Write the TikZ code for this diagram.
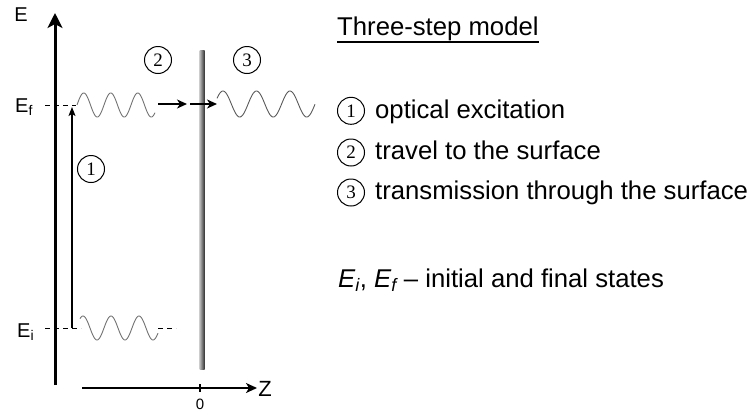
\documentclass[tikz,border=0pt]{standalone}
\usepackage{fontspec}
\setmainfont{Liberation Sans}
\newfontfamily\serifdig{Liberation Serif}
\usetikzlibrary{arrows.meta}
\begin{document}
\begin{tikzpicture}[x=1pt,y=-1pt,
  num/.style={circle,draw,line width=1pt,minimum size=27pt,inner sep=0pt,
    font=\serifdig\fontsize{19}{19}\selectfont},
  lbl/.style={font=\fontsize{25.7}{30}\selectfont,anchor=base west,inner sep=0pt},
  axlbl/.style={font=\fontsize{20}{24}\selectfont,inner sep=0pt},
  level/.style={line width=0.8pt,dash pattern=on 5pt off 4pt},
  wave/.style={line width=0.9pt,black!55},
  wavedark/.style={line width=0.9pt,black!65},
  bigaxis/.style={line width=3pt,-{Stealth[length=15pt,width=15pt,inset=4pt]}},
  zaxis/.style={line width=1.5pt,-{Stealth[length=11pt,width=10pt,inset=3pt]}},
  travel/.style={line width=1.8pt,-{Stealth[length=10pt,width=9pt,inset=3pt]}},
  excite/.style={line width=1.2pt,-{Stealth[length=9pt,width=7pt,inset=2pt]}}]
\useasboundingbox (0,0) rectangle (750,413);

% axes
\coordinate (Ebot) at (55,385);
\coordinate (Etop) at (55,13);
\draw[bigaxis] (Ebot) -- (Etop);
\node[axlbl] (Elab) at (21,15) {E};

\coordinate (Zstart) at (82,388);
\coordinate (Zend) at (257,388);
\draw[zaxis] (Zstart) -- (Zend);
\coordinate (tickA) at (200,384);
\coordinate (tickB) at (200,392);
\draw[line width=1.2pt] (tickA) -- (tickB);
\node[axlbl,font=\fontsize{15}{18}\selectfont] (zero) at (200,404) {0};
\node[axlbl,font=\fontsize{22}{26}\selectfont] (Zlab) at (265,389) {Z};

% surface
\shade[left color=black!25,right color=black!80] (199.5,50) rectangle (204.5,369);

% levels
\node[axlbl,anchor=base west] (Ef) at (15,112) {E\textsubscript{f}};
\node[axlbl,anchor=base west] (Ei) at (17,337) {E\textsubscript{i}};

\coordinate (EfL) at (45,105);
\coordinate (EfR) at (76,105);
\draw[level] (EfL) -- (EfR);
\coordinate (EiL) at (45,328);
\coordinate (EiR) at (81,328);
\draw[level] (EiL) -- (EiR);
\coordinate (EiL2) at (158,328);
\coordinate (EiR2) at (176,328);
\draw[level] (EiL2) -- (EiR2);

% waves
\draw[wave] plot[domain=77:155,samples=150,smooth] (\x,{105-12*sin(13.333*(\x-77))});
\draw[wave] plot[domain=80:158,samples=150,smooth] (\x,{328-12*sin(12.857*(\x-76))});
\draw[wavedark] plot[domain=217:315,samples=180,smooth] (\x,{104-13*sin(10.746*(\x-214.6))});

% step 1
\coordinate (exA) at (72,328);
\coordinate (exB) at (72,107);
\draw[excite] (exA) -- (exB);
\node[num] (n1) at (91,169) {1};

% step 2
\coordinate (trA) at (158,104);
\coordinate (trB) at (187,104);
\coordinate (trC) at (190,104);
\coordinate (trD) at (217,104);
\draw[travel] (trA) -- (trB);
\draw[travel] (trC) -- (trD);
\node[num] (n2) at (158,60) {2};
\node[num] (n3) at (247,60) {3};

% legend
\node[lbl] (head) at (337,35) {Three-step model};
\draw[line width=1.3pt] ([yshift=-7pt]head.base west) -- ([yshift=-7pt]head.base east);

\node[num] (c1) at (351,110.8) {1};
\node[lbl] (t1) at (375,118) {optical excitation};
\node[num] (c2) at (351,152.5) {2};
\node[lbl] (t2) at (375,159.5) {travel to the surface};
\node[num] (c3) at (351,192.5) {3};
\node[lbl] (t3) at (375,199.5) {transmission through the surface};

\node[lbl] (states) at (338,287) {\textit{E\textsubscript{i}}, \textit{E\textsubscript{f}} – initial and final states};
\end{tikzpicture}
\end{document}
